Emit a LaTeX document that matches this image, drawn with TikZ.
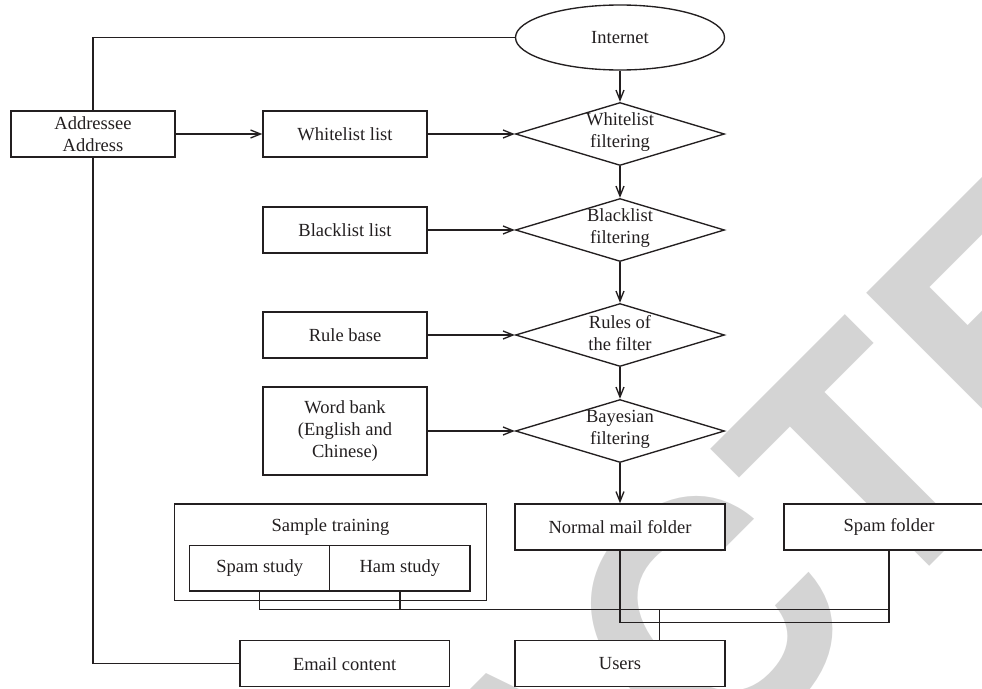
\documentclass[tikz,border=0pt]{standalone}
\usepackage{fontspec}
\setmainfont{Liberation Serif}
\newfontfamily\wmfont{TeX Gyre Heros}
\usetikzlibrary{arrows.meta,shapes.geometric}
\definecolor{ink}{RGB}{35,31,32}
\definecolor{wmgray}{RGB}{212,212,212}
\begin{document}
\begin{tikzpicture}[x=1pt,y=-1pt,line width=1.35pt,draw=ink,
  txt/.style={font=\fontsize{18.5}{22}\selectfont,text=ink,align=center,inner sep=0pt},
  box/.style={txt,draw=ink,fill=white,rectangle,minimum width=164pt,minimum height=46pt},
  wbox/.style={box,minimum width=210pt},
  dia/.style={draw=ink,fill=white,diamond,inner sep=0pt,minimum width=209pt,minimum height=63pt},
  arr/.style={-{Straight Barb[length=10pt,width=8pt]}}]
\useasboundingbox (0,0) rectangle (982,688);
% watermark
\node[rotate=45,anchor=base east,inner sep=0pt,text=wmgray,
  font={\wmfont\bfseries\fontsize{326}{326}\selectfont}] (wm) at (1336.6,159.4) {RETRACTED};
% nodes
\node[draw=ink,fill=white,ellipse,txt,minimum width=209pt,minimum height=65pt] (inet) at (620,37.5) {Internet};
\node[box] (addr) at (93,134) {Addressee\\Address};
\node[box] (wl) at (345,134) {Whitelist list};
\node[box] (bl) at (345,230) {Blacklist list};
\node[box] (rb) at (345,335) {Rule base};
\node[box,minimum height=88pt] (wb) at (345,431) {Word bank\\(English and\\Chinese)};
\node[dia] (wf) at (620,134) {};
\node[txt] at ([yshift=2pt]wf.center) {Whitelist\\filtering};
\node[dia] (bf) at (620,230) {};
\node[txt] at ([yshift=2pt]bf.center) {Blacklist\\filtering};
\node[dia] (rf) at (620,335) {};
\node[txt] at ([yshift=2pt]rf.center) {Rules of\\the filter};
\node[dia] (bay) at (620,431) {};
\node[txt] at ([yshift=2pt]bay.center) {Bayesian\\filtering};
\node[wbox] (nm) at (620,527) {Normal mail folder};
\node[wbox] (sf) at (889,527) {Spam folder};
\node[box,minimum width=312.4pt,minimum height=96.7pt] (st) at (330.5,552.35) {};
\node[txt] (sttitle) at (330.5,527.5) {Sample training};
\node[box,minimum width=140pt,minimum height=45.7pt] (ss) at (259.7,568.15) {Spam study};
\node[box,minimum width=140.3pt,minimum height=45.7pt] (hs) at (399.85,568.15) {Ham study};
\node[box,minimum width=209.3pt] (em) at (344.65,663.7) {Email content};
\node[wbox] (us) at (620,663.7) {Users};
\coordinate (bus) at (0,609.3);
\coordinate (bus2) at (0,622.7);
\coordinate (ux) at (659.3,609.3);
% connectors
\draw (addr.north) |- (inet.west);
\draw[arr] (addr) -- (wl);
\draw[arr] (wl) -- (wf);
\draw[arr] (bl) -- (bf);
\draw[arr] (rb) -- (rf);
\draw[arr] (wb) -- (bay);
\draw[arr] (inet) -- (wf);
\draw[arr] (wf) -- (bf);
\draw[arr] (bf) -- (rf);
\draw[arr] (rf) -- (bay);
\draw[arr] (bay) -- (nm);
\draw (addr.south) |- (em.west);
\draw (ss.south) |- (sf.south |- bus);
\draw (hs.south) -- (hs.south |- bus);
\draw (nm.south) |- (sf.south |- bus2) -- (sf.south);
\draw (ux) -- (ux |- us.north);
\end{tikzpicture}
\end{document}
